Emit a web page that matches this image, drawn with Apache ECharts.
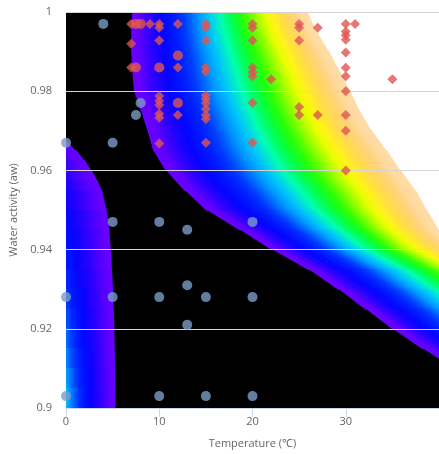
<!DOCTYPE html>
<html>
<head>
<meta charset="utf-8">
<script src="https://cdn.jsdelivr.net/npm/echarts@6/dist/echarts.min.js"></script>
<style>
html, body { margin: 0; padding: 0; background: #fff; }
#chart { width: 439px; height: 454px; }
</style>
</head>
<body>
<div id="chart"></div>
<script>
// background field at steps of 0.005 aw
// blackEdgeT: where the black area ends, whiteEdgeT: where the colour band fades to white
const edgeAw = [1, 0.995, 0.99, 0.985, 0.98, 0.975, 0.97, 0.965, 0.96, 0.955, 0.95,
  0.945, 0.94, 0.935, 0.93, 0.925, 0.92, 0.915, 0.91, 0.905, 0.9];
const blackEdgeT = [7.1, 7.0, 7.0, 7.1, 7.3, 8.05, 8.75, 9.35, 10.7, 12.7, 15.05,
  18.6, 22.05, 26.0, 29.2, 32.1, 35.0, 38.2, 41.7, 45.1, 48.5];
const whiteEdgeT = [25.9, 26.9, 28.2, 29.4, 30.5, 31.5, 32.8, 34.4, 35.9, 37.5, 38.7,
  40.0, 42.4, 46.7, 49.9, 53.0, 56.0, 59.3, 63.0, 66.5, 70.0];
// the blue strip along T = 0
const leftAw = [0.9675, 0.965, 0.9625, 0.96, 0.9575, 0.955, 0.95, 0.945, 0.94, 0.935,
  0.93, 0.925, 0.92, 0.915, 0.91, 0.905, 0.9];
const leftEdgeT = [0, 1.1, 2.0, 2.75, 3.35, 3.85, 4.35, 4.65, 4.8, 4.93,
  5.04, 5.12, 5.18, 5.22, 5.25, 5.28, 5.3];
const leftTone = [1, 1.3, 1.6, 1.9, 2.2, 2.5, 3.0, 3.4, 3.8, 4.2,
  4.6, 5.0, 5.4, 5.8, 6.2, 6.6, 7.0];

// violet -> blue -> cyan -> green -> yellow -> peach
const palette = ['#6a00ff', '#2a00ff', '#0404ff', '#0018ff', '#0040ff', '#0090ff', '#00c8ff',
  '#00ffb0', '#00ff40', '#30ff00', '#a0ff00', '#ffff00', '#ffe040', '#ffd070', '#ffdca8'];

const tempTicks = [0, 10, 20, 30];
const awTicks = [0.9, 0.92, 0.94, 0.96, 0.98, 1];

// blue circles [temperature, aw]
const noGrowth = [
  [4, 0.997], [8, 0.977], [7.5, 0.974], [0, 0.967], [5, 0.967],
  [5, 0.947], [10, 0.947], [13, 0.945], [20, 0.947], [13, 0.931],
  [0, 0.928], [5, 0.928], [10, 0.928], [15, 0.928], [20, 0.928],
  [13, 0.921], [0, 0.903], [10, 0.903], [15, 0.903], [20, 0.903]
];
// red diamonds
const growth = [
  [7, 0.997], [7, 0.992], [7, 0.986], [9, 0.997],
  [10, 0.997], [10, 0.996], [10, 0.9928], [10, 0.9788], [10, 0.9776], [10, 0.9765],
  [10, 0.9743], [10, 0.9733], [10, 0.9668],
  [12, 0.997], [12, 0.986], [12, 0.974],
  [15, 0.997], [15, 0.996], [15, 0.9928], [15, 0.986], [15, 0.985], [15, 0.979],
  [15, 0.978], [15, 0.977], [15, 0.9755], [15, 0.974], [15, 0.973], [15, 0.967],
  [20, 0.997], [20, 0.996], [20, 0.9928], [20, 0.986], [20, 0.9848], [20, 0.9838],
  [20, 0.977], [20, 0.967],
  [22, 0.983],
  [25, 0.997], [25, 0.996], [25, 0.9928], [25, 0.976], [25, 0.974],
  [27, 0.996], [27, 0.974],
  [30, 0.997], [30, 0.9951], [30, 0.9941], [30, 0.993], [30, 0.9898], [30, 0.9859],
  [30, 0.9838], [30, 0.98], [30, 0.974], [30, 0.970], [30, 0.96],
  [31, 0.997], [35, 0.983]
];
// red round marks
const growthRound = [
  [7.5, 0.997], [8, 0.997], [7.5, 0.986], [10, 0.986], [12, 0.989], [12, 0.977]
];

// colour at fraction f of the way from the black edge to the white edge
function bandColor(f) {
  const n = palette.length;
  const p = Math.min(Math.max(f * n - 0.5, 0), n - 1);
  return echarts.color.lerp(p / (n - 1), palette);
}
function toneColor(level) {
  return echarts.color.lerp((level - 1) / (palette.length - 1), palette);
}

// gradient across a quad, iso-colour lines follow the quad's side edges
function slantedGradient(tl, bl, tr, br, stops) {
  const ml = [(tl[0] + bl[0]) / 2, (tl[1] + bl[1]) / 2];
  const mr = [(tr[0] + br[0]) / 2, (tr[1] + br[1]) / 2];
  let dx = (bl[0] - tl[0]) + (br[0] - tr[0]);
  let dy = (bl[1] - tl[1]) + (br[1] - tr[1]);
  const len = Math.hypot(dx, dy) || 1;
  dx /= len; dy /= len;
  let nx = dy, ny = -dx;
  if (nx < 0) { nx = -nx; ny = -ny; }
  const proj = Math.max((mr[0] - ml[0]) * nx + (mr[1] - ml[1]) * ny, 0.5);
  return new echarts.graphic.LinearGradient(ml[0], ml[1], ml[0] + nx * proj, ml[1] + ny * proj, stops, true);
}

function lerpPt(a, b, t) { return [a[0] + (b[0] - a[0]) * t, a[1] + (b[1] - a[1]) * t]; }

const rowIdx = edgeAw.slice(0, -1).map(function (aw, i) { return [blackEdgeT[i], aw]; });
const leftIdx = leftAw.slice(0, -1).map(function (aw, i) { return [leftEdgeT[i], aw]; });
const strips = 24;

function renderBlack(params, api) {
  const i = params.dataIndex;
  const a = api.coord([0, edgeAw[i]]);
  const b = api.coord([blackEdgeT[i], edgeAw[i]]);
  const c = api.coord([blackEdgeT[i + 1], edgeAw[i + 1]]);
  const d = api.coord([0, edgeAw[i + 1]]);
  return {
    type: 'polygon',
    shape: { points: [[a[0], a[1] - 0.5], [b[0] + 4, b[1] - 0.5], [c[0] + 4, c[1] + 0.5], [d[0], d[1] + 0.5]] },
    style: { fill: '#000' }
  };
}

function renderBand(params, api) {
  const i = params.dataIndex;
  const tl = api.coord([blackEdgeT[i], edgeAw[i]]);
  const tr = api.coord([whiteEdgeT[i], edgeAw[i]]);
  const br = api.coord([whiteEdgeT[i + 1], edgeAw[i + 1]]);
  const bl = api.coord([blackEdgeT[i + 1], edgeAw[i + 1]]);
  tl[1] -= 0.5; tr[1] -= 0.5; br[1] += 0.5; bl[1] += 0.5;
  const children = [];
  for (let k = 0; k < strips; k++) {
    const f0 = k / strips, f1 = (k + 1) / strips;
    const a = lerpPt(tl, tr, f0), b = lerpPt(tl, tr, f1);
    const c = lerpPt(bl, br, f1), d = lerpPt(bl, br, f0);
    const ext = k < strips - 1 ? 1 : 0;
    children.push({
      type: 'polygon',
      shape: { points: [a, [b[0] + ext, b[1]], [c[0] + ext, c[1]], d] },
      style: {
        fill: slantedGradient(a, d, b, c, [
          { offset: 0, color: bandColor(f0) },
          { offset: 1, color: bandColor(f1) }
        ])
      }
    });
  }
  return { type: 'group', children: children };
}

function renderLeft(params, api) {
  const j = params.dataIndex;
  const tl = api.coord([0, leftAw[j]]);
  const tr = api.coord([leftEdgeT[j], leftAw[j]]);
  const br = api.coord([leftEdgeT[j + 1], leftAw[j + 1]]);
  const bl = api.coord([0, leftAw[j + 1]]);
  const tone = (leftTone[j] + leftTone[j + 1]) / 2;
  const stops = [];
  for (let k = 0; k <= 8; k++) {
    const f = k / 8;
    stops.push({ offset: f, color: toneColor(1 + (tone - 1) * Math.pow(1 - f, 1.5)) });
  }
  const xEnd = Math.max((tr[0] + br[0]) / 2, tl[0] + 1);
  return {
    type: 'polygon',
    shape: { points: [[tl[0], tl[1] - 0.5], [tr[0], tr[1] - 0.5], [br[0], br[1] + 0.5], [bl[0], bl[1] + 0.5]] },
    style: { fill: new echarts.graphic.LinearGradient(tl[0], 0, xEnd, 0, stops, true) }
  };
}

const font = 'Open Sans';
const chart = echarts.init(document.getElementById('chart'));
chart.setOption({
  animation: false,
  grid: { left: 65, right: -3, top: 12, bottom: 42 },
  xAxis: {
    type: 'value', min: tempTicks[0], max: 40, interval: 10, z: 3,
    name: 'Temperature (℃)', nameLocation: 'middle', nameGap: 30,
    nameTextStyle: { color: '#666', fontSize: 11, fontFamily: font },
    axisLine: { lineStyle: { color: '#ccd6eb' } },
    axisTick: { length: 9, lineStyle: { color: '#ccd6eb' } },
    axisLabel: { color: '#666', fontSize: 11, fontFamily: font, margin: 8, showMaxLabel: false },
    splitLine: { show: false }
  },
  yAxis: {
    type: 'value', min: awTicks[0], max: awTicks[awTicks.length - 1], interval: 0.02, z: 3,
    name: 'Water activity (aw)', nameLocation: 'middle', nameGap: 47,
    nameTextStyle: { color: '#666', fontSize: 11, fontFamily: font },
    axisLine: { show: false },
    axisTick: { show: false },
    axisLabel: { color: '#666', fontSize: 11, fontFamily: font, margin: 14 },
    splitLine: { lineStyle: { color: '#d6d6d6' } }
  },
  series: [
    { type: 'custom', data: rowIdx, renderItem: renderBlack, clip: true, silent: true, z: 1 },
    { type: 'custom', data: rowIdx, renderItem: renderBand, clip: true, silent: true, z: 2 },
    { type: 'custom', data: leftIdx, renderItem: renderLeft, clip: true, silent: true, z: 2 },
    {
      type: 'scatter', data: noGrowth, z: 4,
      symbol: 'circle', symbolSize: 10, itemStyle: { color: '#7b9cc8' }
    },
    {
      type: 'scatter', data: growth, z: 5,
      symbol: 'diamond', symbolSize: 10, itemStyle: { color: '#df5653' }
    },
    {
      type: 'scatter', data: growthRound, z: 5,
      symbol: 'circle', symbolSize: 10, itemStyle: { color: '#df5653' }
    }
  ]
});
</script>
</body>
</html>
